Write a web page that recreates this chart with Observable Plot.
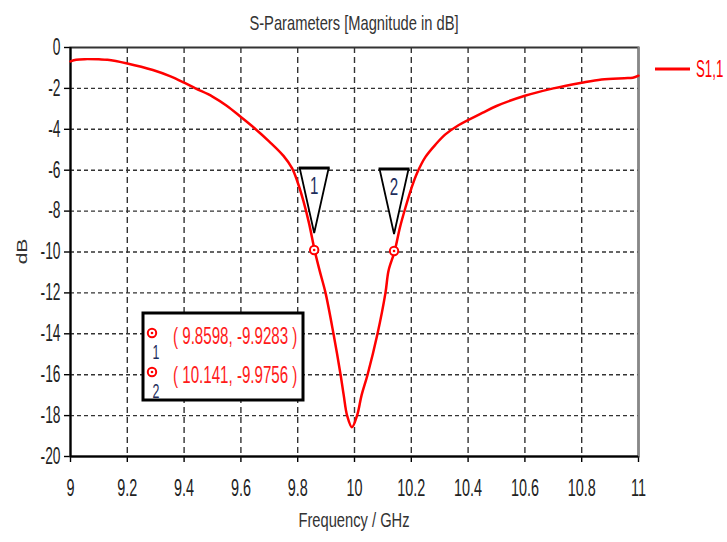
<!DOCTYPE html>
<html>
<head>
<meta charset="utf-8">
<script src="https://cdn.jsdelivr.net/npm/d3@7"></script>
<script src="https://cdn.jsdelivr.net/npm/@observablehq/plot@0.6"></script>
<style>
  body { margin: 0; background: #fff; }
  #chart svg { display: block; }
</style>
</head>
<body>
<div id="chart"></div>
<script>
// ---------- data ----------
const titleText = "S-Parameters [Magnitude in dB]";
const xLabelText = "Frequency / GHz";
const yLabelText = "dB";
const seriesName = "S1,1";

const freq = [9.00, 9.02, 9.05, 9.10, 9.13, 9.20, 9.29, 9.35, 9.40, 9.44,
  9.50, 9.55, 9.60, 9.65, 9.70, 9.75, 9.78, 9.80, 9.82, 9.84,
  9.8598, 9.877, 9.898, 9.926, 9.951, 9.962, 9.974, 9.991, 10.009, 10.025,
  10.046, 10.081, 10.109, 10.12, 10.141, 10.16, 10.18, 10.20, 10.22, 10.25,
  10.285, 10.32, 10.366, 10.45, 10.50, 10.60, 10.70, 10.80, 10.87, 10.95,
  10.98, 11.00];
const s11 = [-0.68, -0.60, -0.57, -0.58, -0.60, -0.78, -1.10, -1.40, -1.72, -2.00,
  -2.40, -2.85, -3.40, -3.97, -4.60, -5.30, -5.90, -6.60, -7.50, -8.60,
  -9.93, -10.90, -12.00, -14.00, -16.00, -17.00, -18.00, -18.57, -18.00, -17.00,
  -16.00, -14.00, -12.00, -10.90, -9.98, -8.80, -7.80, -6.90, -6.15, -5.35,
  -4.75, -4.25, -3.80, -3.20, -2.86, -2.36, -2.00, -1.72, -1.56, -1.50,
  -1.48, -1.38];

const markerIds = ["1", "2"];
const markerFreq = [9.8598, 10.141];
const markerDb = [-9.9283, -9.9756];

const xTicks = [9, 9.2, 9.4, 9.6, 9.8, 10, 10.2, 10.4, 10.6, 10.8, 11];
const yTicks = [0, -2, -4, -6, -8, -10, -12, -14, -16, -18, -20];

// ---------- build ----------
const curve = freq.map((f, i) => ({ f, db: s11[i] }));
const markers = markerIds.map((id, i) => ({ id, f: markerFreq[i], db: markerDb[i] }));

const FONT = "'Liberation Sans', Arial, sans-serif";
const W = 727, H = 542;

const plot = Plot.plot({
  width: W, height: H,
  marginLeft: 70, marginRight: 89, marginTop: 47, marginBottom: 86,
  style: { fontFamily: FONT, background: "#fff", overflow: "visible" },
  x: { domain: [xTicks[0], xTicks[xTicks.length - 1]] },
  y: { domain: [yTicks[yTicks.length - 1], yTicks[0]] },
  marks: [
    Plot.gridX(xTicks.slice(1, -1), { stroke: "#333", strokeOpacity: 1, strokeWidth: 1.4, strokeDasharray: "6,4" }),
    Plot.gridY(yTicks.slice(1, -1), { stroke: "#333", strokeOpacity: 1, strokeWidth: 1.4, strokeDasharray: "4,3" }),
    Plot.axisX(xTicks, { tickSize: 6, tickPadding: 16, fontSize: 24, stroke: "#000", strokeWidth: 1.4, fill: "#222", label: null, tickFormat: d => String(d) }),
    Plot.axisY(yTicks, { tickSize: 6, tickPadding: 4, fontSize: 23, stroke: "#000", strokeWidth: 1.4, fill: "#222", label: null, tickFormat: d => String(d) }),
    Plot.frame({ stroke: "#333", strokeWidth: 2 }),
    Plot.ruleX([xTicks[xTicks.length - 1]], { stroke: "#888", strokeWidth: 2 }),
    Plot.ruleX([xTicks[0]], { stroke: "#000", strokeWidth: 2 }),
    Plot.ruleY([yTicks[yTicks.length - 1]], { stroke: "#000", strokeWidth: 2 }),
    Plot.line(curve, { x: "f", y: "db", stroke: "#ff0000", strokeWidth: 2.5, curve: "catmull-rom" })
  ]
});

document.getElementById("chart").appendChild(plot);

const xs = plot.scale("x"), ys = plot.scale("y");
const svg = d3.select(plot);
const squeeze = [];

function addText(parent, txt, attrs, factor) {
  const t = parent.append("text").text(txt).attr("font-family", FONT).attr("text-anchor", "start");
  for (const k in attrs) t.attr(k, attrs[k]);
  squeeze.push([t.node(), factor]);
  return t;
}

// title and axis labels
const xMid = (xs.apply(xTicks[0]) + xs.apply(xTicks[xTicks.length - 1])) / 2;
addText(svg, titleText, { x: xMid, y: 30, "text-anchor": "middle", "font-size": 21, fill: "#333" }, 0.7);
addText(svg, xLabelText, { x: xMid, y: 527, "text-anchor": "middle", "font-size": 21, fill: "#333" }, 0.7);
svg.append("text").text(yLabelText).attr("font-family", FONT).attr("font-size", 21).attr("fill", "#333")
  .attr("text-anchor", "middle")
  .attr("transform", `translate(27,${(ys.apply(0) + ys.apply(-20)) / 2}) rotate(-90) scale(1,0.7)`);

// legend
const lg = svg.append("g");
lg.append("line").attr("x1", 655).attr("x2", 690).attr("y1", 69).attr("y2", 69)
  .attr("stroke", "#ff0000").attr("stroke-width", 3);
lg.append("text").text(seriesName).attr("font-family", FONT).attr("text-anchor", "start")
  .attr("font-size", 17).attr("fill", "#ff0000")
  .attr("transform", "translate(696,77) scale(0.78,1.4)");

// marker symbols on curve
function ringMarker(g, cx, cy) {
  g.append("circle").attr("cx", cx).attr("cy", cy).attr("r", 4.2)
    .attr("fill", "#fff").attr("stroke", "#ff0000").attr("stroke-width", 2);
  g.append("circle").attr("cx", cx).attr("cy", cy).attr("r", 1.3).attr("fill", "#ff0000");
}
const mg = svg.append("g");
markers.forEach(m => {
  const px = xs.apply(m.f), py = ys.apply(m.db);
  const apexY = py - 17, topY = apexY - 65, hw = 14.5;
  mg.append("path")
    .attr("d", `M${px - hw},${topY} L${px},${apexY} L${px + hw},${topY}`)
    .attr("fill", "#fff").attr("stroke", "#000").attr("stroke-width", 1.8);
  mg.append("line").attr("x1", px - hw - 1).attr("x2", px + hw + 1).attr("y1", topY).attr("y2", topY)
    .attr("stroke", "#000").attr("stroke-width", 3);
  addText(mg, m.id, { x: px, y: topY + 26, "text-anchor": "middle", "font-size": 24, fill: "#1e2d5c" }, 0.63);
  ringMarker(mg, px, py);
});

// annotation box
const bg = svg.append("g");
bg.append("rect").attr("x", 143).attr("y", 313).attr("width", 160).attr("height", 87)
  .attr("fill", "#fff").attr("stroke", "#000").attr("stroke-width", 3);
markers.forEach((m, i) => {
  const rowY = 333 + i * 39;
  ringMarker(bg, 152, rowY);
  addText(bg, m.id, { x: 152.5, y: rowY + 26, "font-size": 20, fill: "#1e2d5c" }, 0.62);
  addText(bg, `( ${m.f}, ${m.db} )`, { x: 173, y: rowY + 11, "font-size": 24, fill: "#ff1a1a" }, 0.63);
});

// squeeze axis tick labels horizontally (narrow font look)
plot.querySelectorAll('g[aria-label="x-axis tick label"] text, g[aria-label="y-axis tick label"] text')
  .forEach(t => squeeze.push([t, 0.6]));

squeeze.forEach(([t, f]) => {
  const L = t.getComputedTextLength();
  t.setAttribute("textLength", (L * f).toFixed(2));
  t.setAttribute("lengthAdjust", "spacingAndGlyphs");
});
</script>
</body>
</html>
